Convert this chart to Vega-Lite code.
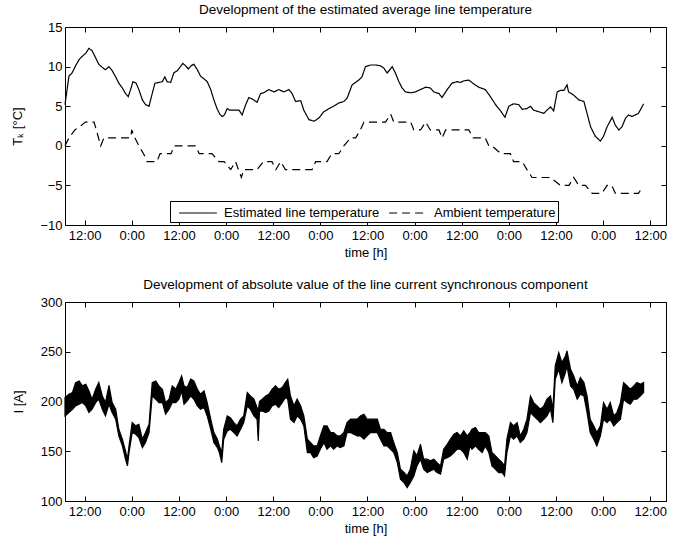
{
  "$schema": "https://vega.github.io/schema/vega-lite/v6.json",
  "padding": {"left": 11, "top": 2, "right": 5, "bottom": 2},
  "spacing": 17,
  "config": {
    "font": "Liberation Sans",
    "view": {"stroke": "black", "strokeWidth": 1},
    "axis": {"grid": false, "domain": false, "tickColor": "black", "tickSize": -5, "tickWidth": 1, "labelColor": "black", "labelFontSize": 13, "titleFontSize": 13, "titleFontWeight": "normal", "titleColor": "black", "labelFont": "Liberation Sans", "titleFont": "Liberation Sans"},
    "axisX": {"labelPadding": 9, "titlePadding": 4},
    "axisY": {"labelPadding": 8, "titlePadding": 15},
    "title": {"fontSize": 13.5, "fontWeight": "normal", "color": "black", "frame": "group", "offset": 5, "font": "Liberation Sans"}
  },
  "datasets": {
    "temp": [
      {"h":7.0,"T":5.2,"series":"Estimated line temperature"},{"h":8.0,"T":8.8,"series":"Estimated line temperature"},{"h":8.8,"T":9.2,"series":"Estimated line temperature"},{"h":9.7,"T":10.1,"series":"Estimated line temperature"},{"h":10.6,"T":10.9,"series":"Estimated line temperature"},{"h":11.4,"T":11.3,"series":"Estimated line temperature"},{"h":12.3,"T":11.7,"series":"Estimated line temperature"},{"h":13.1,"T":12.3,"series":"Estimated line temperature"},{"h":13.9,"T":12.0,"series":"Estimated line temperature"},{"h":14.8,"T":11.1,"series":"Estimated line temperature"},{"h":15.6,"T":10.3,"series":"Estimated line temperature"},{"h":16.5,"T":9.9,"series":"Estimated line temperature"},{"h":17.3,"T":9.6,"series":"Estimated line temperature"},{"h":18.2,"T":10.0,"series":"Estimated line temperature"},{"h":19.0,"T":9.5,"series":"Estimated line temperature"},{"h":19.9,"T":8.7,"series":"Estimated line temperature"},{"h":20.7,"T":7.9,"series":"Estimated line temperature"},{"h":21.6,"T":7.3,"series":"Estimated line temperature"},{"h":22.4,"T":6.6,"series":"Estimated line temperature"},{"h":23.1,"T":6.2,"series":"Estimated line temperature"},{"h":23.7,"T":7.1,"series":"Estimated line temperature"},{"h":24.3,"T":8.1,"series":"Estimated line temperature"},{"h":25.1,"T":7.9,"series":"Estimated line temperature"},{"h":25.8,"T":7.1,"series":"Estimated line temperature"},{"h":26.7,"T":5.8,"series":"Estimated line temperature"},{"h":27.5,"T":5.2,"series":"Estimated line temperature"},{"h":28.4,"T":5.0,"series":"Estimated line temperature"},{"h":29.1,"T":6.4,"series":"Estimated line temperature"},{"h":29.9,"T":7.9,"series":"Estimated line temperature"},{"h":30.9,"T":8.0,"series":"Estimated line temperature"},{"h":31.8,"T":8.1,"series":"Estimated line temperature"},{"h":32.4,"T":8.7,"series":"Estimated line temperature"},{"h":33.0,"T":8.1,"series":"Estimated line temperature"},{"h":33.9,"T":8.0,"series":"Estimated line temperature"},{"h":34.7,"T":9.2,"series":"Estimated line temperature"},{"h":35.6,"T":9.5,"series":"Estimated line temperature"},{"h":36.4,"T":10.0,"series":"Estimated line temperature"},{"h":37.0,"T":10.4,"series":"Estimated line temperature"},{"h":37.7,"T":10.1,"series":"Estimated line temperature"},{"h":38.4,"T":9.7,"series":"Estimated line temperature"},{"h":39.1,"T":10.1,"series":"Estimated line temperature"},{"h":39.8,"T":10.3,"series":"Estimated line temperature"},{"h":40.7,"T":9.6,"series":"Estimated line temperature"},{"h":41.5,"T":8.8,"series":"Estimated line temperature"},{"h":42.5,"T":8.4,"series":"Estimated line temperature"},{"h":43.2,"T":8.1,"series":"Estimated line temperature"},{"h":44.1,"T":7.1,"series":"Estimated line temperature"},{"h":44.9,"T":5.8,"series":"Estimated line temperature"},{"h":45.7,"T":4.7,"series":"Estimated line temperature"},{"h":46.4,"T":4.0,"series":"Estimated line temperature"},{"h":47.0,"T":3.7,"series":"Estimated line temperature"},{"h":47.6,"T":3.9,"series":"Estimated line temperature"},{"h":48.3,"T":4.7,"series":"Estimated line temperature"},{"h":48.9,"T":4.5,"series":"Estimated line temperature"},{"h":50.0,"T":4.5,"series":"Estimated line temperature"},{"h":51.3,"T":4.5,"series":"Estimated line temperature"},{"h":52.1,"T":3.9,"series":"Estimated line temperature"},{"h":53.0,"T":5.2,"series":"Estimated line temperature"},{"h":53.8,"T":6.1,"series":"Estimated line temperature"},{"h":54.7,"T":5.9,"series":"Estimated line temperature"},{"h":55.9,"T":5.5,"series":"Estimated line temperature"},{"h":56.8,"T":6.6,"series":"Estimated line temperature"},{"h":57.6,"T":6.7,"series":"Estimated line temperature"},{"h":58.9,"T":7.1,"series":"Estimated line temperature"},{"h":60.2,"T":6.8,"series":"Estimated line temperature"},{"h":61.4,"T":7.1,"series":"Estimated line temperature"},{"h":62.7,"T":6.8,"series":"Estimated line temperature"},{"h":64.0,"T":7.1,"series":"Estimated line temperature"},{"h":64.8,"T":6.6,"series":"Estimated line temperature"},{"h":65.7,"T":5.6,"series":"Estimated line temperature"},{"h":67.0,"T":5.7,"series":"Estimated line temperature"},{"h":67.8,"T":4.5,"series":"Estimated line temperature"},{"h":69.1,"T":3.3,"series":"Estimated line temperature"},{"h":70.4,"T":3.1,"series":"Estimated line temperature"},{"h":71.6,"T":3.5,"series":"Estimated line temperature"},{"h":72.9,"T":4.3,"series":"Estimated line temperature"},{"h":74.2,"T":4.7,"series":"Estimated line temperature"},{"h":75.4,"T":5.0,"series":"Estimated line temperature"},{"h":76.7,"T":5.4,"series":"Estimated line temperature"},{"h":78.0,"T":5.6,"series":"Estimated line temperature"},{"h":78.8,"T":6.0,"series":"Estimated line temperature"},{"h":80.1,"T":7.7,"series":"Estimated line temperature"},{"h":81.8,"T":8.3,"series":"Estimated line temperature"},{"h":82.6,"T":8.7,"series":"Estimated line temperature"},{"h":83.5,"T":10.0,"series":"Estimated line temperature"},{"h":84.8,"T":10.2,"series":"Estimated line temperature"},{"h":86.1,"T":10.2,"series":"Estimated line temperature"},{"h":87.3,"T":10.1,"series":"Estimated line temperature"},{"h":88.2,"T":9.8,"series":"Estimated line temperature"},{"h":89.0,"T":9.2,"series":"Estimated line temperature"},{"h":89.7,"T":9.6,"series":"Estimated line temperature"},{"h":90.3,"T":10.0,"series":"Estimated line temperature"},{"h":91.1,"T":9.2,"series":"Estimated line temperature"},{"h":92.0,"T":8.1,"series":"Estimated line temperature"},{"h":92.8,"T":7.3,"series":"Estimated line temperature"},{"h":93.7,"T":6.8,"series":"Estimated line temperature"},{"h":95.0,"T":6.7,"series":"Estimated line temperature"},{"h":96.2,"T":6.8,"series":"Estimated line temperature"},{"h":97.5,"T":7.1,"series":"Estimated line temperature"},{"h":98.8,"T":7.4,"series":"Estimated line temperature"},{"h":100.0,"T":7.3,"series":"Estimated line temperature"},{"h":100.9,"T":6.8,"series":"Estimated line temperature"},{"h":102.2,"T":6.6,"series":"Estimated line temperature"},{"h":103.0,"T":6.1,"series":"Estimated line temperature"},{"h":104.3,"T":7.1,"series":"Estimated line temperature"},{"h":105.5,"T":7.9,"series":"Estimated line temperature"},{"h":106.8,"T":8.1,"series":"Estimated line temperature"},{"h":107.7,"T":8.0,"series":"Estimated line temperature"},{"h":108.5,"T":8.2,"series":"Estimated line temperature"},{"h":109.8,"T":8.3,"series":"Estimated line temperature"},{"h":111.1,"T":7.8,"series":"Estimated line temperature"},{"h":112.3,"T":7.4,"series":"Estimated line temperature"},{"h":114.0,"T":7.1,"series":"Estimated line temperature"},{"h":115.3,"T":6.2,"series":"Estimated line temperature"},{"h":116.6,"T":5.2,"series":"Estimated line temperature"},{"h":117.9,"T":4.4,"series":"Estimated line temperature"},{"h":119.0,"T":3.6,"series":"Estimated line temperature"},{"h":120.0,"T":5.0,"series":"Estimated line temperature"},{"h":121.2,"T":5.3,"series":"Estimated line temperature"},{"h":122.5,"T":5.2,"series":"Estimated line temperature"},{"h":123.4,"T":4.6,"series":"Estimated line temperature"},{"h":124.6,"T":4.7,"series":"Estimated line temperature"},{"h":125.5,"T":5.0,"series":"Estimated line temperature"},{"h":126.3,"T":4.5,"series":"Estimated line temperature"},{"h":127.6,"T":4.3,"series":"Estimated line temperature"},{"h":128.9,"T":4.1,"series":"Estimated line temperature"},{"h":129.7,"T":4.5,"series":"Estimated line temperature"},{"h":130.6,"T":4.9,"series":"Estimated line temperature"},{"h":131.4,"T":4.4,"series":"Estimated line temperature"},{"h":132.3,"T":6.8,"series":"Estimated line temperature"},{"h":133.1,"T":7.0,"series":"Estimated line temperature"},{"h":134.0,"T":7.0,"series":"Estimated line temperature"},{"h":134.8,"T":7.7,"series":"Estimated line temperature"},{"h":135.2,"T":6.8,"series":"Estimated line temperature"},{"h":136.5,"T":6.4,"series":"Estimated line temperature"},{"h":137.8,"T":5.8,"series":"Estimated line temperature"},{"h":139.1,"T":5.6,"series":"Estimated line temperature"},{"h":139.9,"T":4.1,"series":"Estimated line temperature"},{"h":140.8,"T":2.4,"series":"Estimated line temperature"},{"h":142.0,"T":1.2,"series":"Estimated line temperature"},{"h":143.3,"T":0.6,"series":"Estimated line temperature"},{"h":144.1,"T":1.2,"series":"Estimated line temperature"},{"h":145.0,"T":2.4,"series":"Estimated line temperature"},{"h":146.3,"T":3.6,"series":"Estimated line temperature"},{"h":147.1,"T":2.6,"series":"Estimated line temperature"},{"h":148.0,"T":2.0,"series":"Estimated line temperature"},{"h":148.8,"T":2.4,"series":"Estimated line temperature"},{"h":149.7,"T":3.5,"series":"Estimated line temperature"},{"h":150.5,"T":3.9,"series":"Estimated line temperature"},{"h":151.3,"T":3.7,"series":"Estimated line temperature"},{"h":152.2,"T":3.9,"series":"Estimated line temperature"},{"h":153.0,"T":4.1,"series":"Estimated line temperature"},{"h":154.3,"T":5.3,"series":"Estimated line temperature"},
      {"h":7.0,"T":0,"series":"Ambient temperature"},{"h":8.0,"T":1,"series":"Ambient temperature"},{"h":9.5,"T":2,"series":"Ambient temperature"},{"h":11.2,"T":2.6,"series":"Ambient temperature"},{"h":12.2,"T":3,"series":"Ambient temperature"},{"h":14.4,"T":3,"series":"Ambient temperature"},{"h":16.1,"T":0,"series":"Ambient temperature"},{"h":16.9,"T":1,"series":"Ambient temperature"},{"h":23.7,"T":1,"series":"Ambient temperature"},{"h":24.0,"T":2,"series":"Ambient temperature"},{"h":24.6,"T":1.2,"series":"Ambient temperature"},{"h":25.8,"T":0,"series":"Ambient temperature"},{"h":27.1,"T":-1.1,"series":"Ambient temperature"},{"h":27.9,"T":-2,"series":"Ambient temperature"},{"h":30.4,"T":-2,"series":"Ambient temperature"},{"h":31.2,"T":-1,"series":"Ambient temperature"},{"h":34.0,"T":-1,"series":"Ambient temperature"},{"h":34.8,"T":0,"series":"Ambient temperature"},{"h":40.2,"T":0,"series":"Ambient temperature"},{"h":41.2,"T":-1,"series":"Ambient temperature"},{"h":44.4,"T":-1,"series":"Ambient temperature"},{"h":46.2,"T":-2,"series":"Ambient temperature"},{"h":47.5,"T":-2,"series":"Ambient temperature"},{"h":49.2,"T":-3,"series":"Ambient temperature"},{"h":50.4,"T":-2,"series":"Ambient temperature"},{"h":51.9,"T":-4,"series":"Ambient temperature"},{"h":52.5,"T":-3,"series":"Ambient temperature"},{"h":55.9,"T":-3,"series":"Ambient temperature"},{"h":57.5,"T":-2,"series":"Ambient temperature"},{"h":59.7,"T":-2,"series":"Ambient temperature"},{"h":60.7,"T":-3,"series":"Ambient temperature"},{"h":61.9,"T":-2,"series":"Ambient temperature"},{"h":63.1,"T":-3,"series":"Ambient temperature"},{"h":69.9,"T":-3,"series":"Ambient temperature"},{"h":70.8,"T":-2,"series":"Ambient temperature"},{"h":73.7,"T":-2,"series":"Ambient temperature"},{"h":74.9,"T":-1,"series":"Ambient temperature"},{"h":76.7,"T":-1,"series":"Ambient temperature"},{"h":78.0,"T":0,"series":"Ambient temperature"},{"h":79.7,"T":1,"series":"Ambient temperature"},{"h":81.0,"T":1,"series":"Ambient temperature"},{"h":82.2,"T":2,"series":"Ambient temperature"},{"h":83.1,"T":3,"series":"Ambient temperature"},{"h":88.6,"T":3,"series":"Ambient temperature"},{"h":89.9,"T":4,"series":"Ambient temperature"},{"h":90.7,"T":3,"series":"Ambient temperature"},{"h":95.0,"T":3,"series":"Ambient temperature"},{"h":95.8,"T":2,"series":"Ambient temperature"},{"h":97.5,"T":2,"series":"Ambient temperature"},{"h":98.8,"T":3,"series":"Ambient temperature"},{"h":100.0,"T":2,"series":"Ambient temperature"},{"h":102.2,"T":2,"series":"Ambient temperature"},{"h":103.0,"T":1,"series":"Ambient temperature"},{"h":103.9,"T":2,"series":"Ambient temperature"},{"h":109.8,"T":2,"series":"Ambient temperature"},{"h":110.9,"T":1,"series":"Ambient temperature"},{"h":114.0,"T":1,"series":"Ambient temperature"},{"h":114.9,"T":0,"series":"Ambient temperature"},{"h":115.7,"T":0,"series":"Ambient temperature"},{"h":118.0,"T":-1,"series":"Ambient temperature"},{"h":120.4,"T":-1,"series":"Ambient temperature"},{"h":121.2,"T":-2,"series":"Ambient temperature"},{"h":123.4,"T":-2,"series":"Ambient temperature"},{"h":124.6,"T":-3,"series":"Ambient temperature"},{"h":125.9,"T":-4,"series":"Ambient temperature"},{"h":130.6,"T":-4,"series":"Ambient temperature"},{"h":133.1,"T":-5,"series":"Ambient temperature"},{"h":135.3,"T":-5,"series":"Ambient temperature"},{"h":136.5,"T":-4,"series":"Ambient temperature"},{"h":137.8,"T":-5,"series":"Ambient temperature"},{"h":139.5,"T":-5,"series":"Ambient temperature"},{"h":141.2,"T":-6,"series":"Ambient temperature"},{"h":143.7,"T":-6,"series":"Ambient temperature"},{"h":145.0,"T":-5,"series":"Ambient temperature"},{"h":146.2,"T":-5,"series":"Ambient temperature"},{"h":147.1,"T":-6,"series":"Ambient temperature"},{"h":153.0,"T":-6,"series":"Ambient temperature"},{"h":153.9,"T":-5.3,"series":"Ambient temperature"}
    ],
    "cur": [
      {"h":7.0,"lo":185.5,"hi":203.9},{"h":8.0,"lo":188.9,"hi":207.3},{"h":8.9,"lo":192.2,"hi":209.0},{"h":9.7,"lo":195.6,"hi":219.0},{"h":10.6,"lo":197.2,"hi":220.7},{"h":11.4,"lo":198.9,"hi":215.7},{"h":12.3,"lo":195.6,"hi":217.3},{"h":13.1,"lo":188.9,"hi":210.6},{"h":13.9,"lo":192.2,"hi":202.3},{"h":14.8,"lo":198.9,"hi":212.3},{"h":15.6,"lo":202.3,"hi":219.0},{"h":16.5,"lo":192.2,"hi":205.6},{"h":17.3,"lo":185.5,"hi":198.9},{"h":18.2,"lo":197.2,"hi":216.3},{"h":19.0,"lo":188.9,"hi":198.9},{"h":19.9,"lo":182.2,"hi":192.2},{"h":20.7,"lo":165.4,"hi":172.1},{"h":21.6,"lo":155.4,"hi":162.1},{"h":22.4,"lo":142.0,"hi":150.3},{"h":22.9,"lo":135.3,"hi":142.0},{"h":23.3,"lo":148.7,"hi":155.4},{"h":24.1,"lo":168.8,"hi":178.8},{"h":25.0,"lo":167.1,"hi":175.5},{"h":25.8,"lo":163.7,"hi":177.1},{"h":26.7,"lo":153.7,"hi":162.1},{"h":27.5,"lo":158.7,"hi":168.8},{"h":28.4,"lo":168.8,"hi":177.1},{"h":29.2,"lo":205.6,"hi":219.0},{"h":30.1,"lo":202.3,"hi":220.7},{"h":30.9,"lo":198.9,"hi":215.7},{"h":31.8,"lo":198.9,"hi":212.3},{"h":32.6,"lo":187.2,"hi":198.9},{"h":33.5,"lo":192.2,"hi":202.3},{"h":34.3,"lo":198.9,"hi":215.7},{"h":35.2,"lo":198.9,"hi":212.3},{"h":36.0,"lo":202.3,"hi":219.0},{"h":36.7,"lo":210.6,"hi":225.7},{"h":37.3,"lo":197.2,"hi":215.7},{"h":38.1,"lo":200.6,"hi":214.0},{"h":39.0,"lo":205.6,"hi":222.4},{"h":39.8,"lo":202.3,"hi":220.7},{"h":40.7,"lo":195.6,"hi":212.3},{"h":41.5,"lo":192.2,"hi":207.3},{"h":42.4,"lo":193.9,"hi":210.6},{"h":43.2,"lo":185.5,"hi":198.9},{"h":44.1,"lo":172.1,"hi":182.2},{"h":44.9,"lo":158.7,"hi":168.8},{"h":45.8,"lo":153.7,"hi":162.1},{"h":46.3,"lo":148.7,"hi":155.4},{"h":46.9,"lo":138.6,"hi":148.7},{"h":47.4,"lo":162.1,"hi":172.1},{"h":48.3,"lo":170.4,"hi":185.5},{"h":49.1,"lo":172.1,"hi":183.8},{"h":50.0,"lo":168.8,"hi":178.8},{"h":50.8,"lo":165.4,"hi":175.5},{"h":51.7,"lo":172.1,"hi":182.2},{"h":52.5,"lo":178.8,"hi":185.5},{"h":53.4,"lo":195.6,"hi":209.0},{"h":54.2,"lo":192.2,"hi":205.6},{"h":55.1,"lo":185.5,"hi":202.3},{"h":55.9,"lo":182.2,"hi":193.9},{"h":56.2,"lo":160.4,"hi":190.0},{"h":56.5,"lo":190.0,"hi":200.0},
      {"h":57.2,"lo":190.5,"hi":202.3},{"h":58.1,"lo":188.9,"hi":205.6},{"h":58.9,"lo":190.5,"hi":207.3},{"h":59.7,"lo":195.6,"hi":212.3},{"h":60.6,"lo":197.2,"hi":215.7},{"h":61.4,"lo":193.9,"hi":212.3},{"h":62.3,"lo":198.9,"hi":214.0},{"h":63.1,"lo":203.9,"hi":219.0},{"h":63.7,"lo":202.3,"hi":222.4},{"h":64.4,"lo":182.2,"hi":205.6},{"h":65.3,"lo":178.8,"hi":195.6},{"h":66.1,"lo":185.5,"hi":202.3},{"h":67.0,"lo":182.2,"hi":195.6},{"h":67.8,"lo":175.5,"hi":185.5},{"h":68.7,"lo":148.7,"hi":162.1},{"h":69.5,"lo":148.7,"hi":158.7},{"h":70.3,"lo":143.6,"hi":155.4},{"h":71.2,"lo":145.3,"hi":155.4},{"h":72.0,"lo":152.0,"hi":165.4},{"h":72.9,"lo":158.7,"hi":175.5},{"h":73.7,"lo":152.0,"hi":175.5},{"h":74.6,"lo":155.4,"hi":168.8},{"h":75.4,"lo":152.0,"hi":168.8},{"h":76.3,"lo":155.4,"hi":165.4},{"h":77.1,"lo":153.7,"hi":165.4},{"h":78.0,"lo":155.4,"hi":168.8},{"h":78.8,"lo":168.8,"hi":178.8},{"h":79.7,"lo":168.8,"hi":182.2},{"h":80.5,"lo":167.1,"hi":182.2},{"h":81.4,"lo":165.4,"hi":182.2},{"h":82.2,"lo":165.4,"hi":185.5},{"h":83.1,"lo":162.1,"hi":187.2},{"h":83.9,"lo":165.4,"hi":182.2},{"h":84.8,"lo":168.8,"hi":182.2},{"h":85.6,"lo":168.8,"hi":182.2},{"h":86.5,"lo":168.8,"hi":182.2},{"h":87.3,"lo":162.1,"hi":172.1},{"h":88.2,"lo":155.4,"hi":172.1},{"h":89.0,"lo":155.4,"hi":168.8},{"h":89.9,"lo":152.0,"hi":168.8},{"h":90.7,"lo":148.7,"hi":158.7},{"h":91.6,"lo":138.6,"hi":148.7},{"h":92.4,"lo":121.9,"hi":131.9},{"h":93.3,"lo":118.5,"hi":128.6},{"h":94.1,"lo":113.5,"hi":125.2},{"h":94.9,"lo":118.5,"hi":131.9},{"h":95.8,"lo":125.2,"hi":150.3},{"h":96.6,"lo":135.3,"hi":145.3},{"h":97.5,"lo":142.0,"hi":157.0},{"h":98.3,"lo":131.9,"hi":142.0},{"h":99.2,"lo":128.6,"hi":142.0},{"h":100.0,"lo":130.2,"hi":140.3},{"h":100.9,"lo":131.9,"hi":142.0},{"h":101.7,"lo":128.6,"hi":138.6},{"h":102.6,"lo":126.9,"hi":135.3},{"h":103.4,"lo":142.0,"hi":152.0},{"h":104.3,"lo":143.6,"hi":157.0},{"h":105.1,"lo":145.3,"hi":162.1},{"h":106.0,"lo":148.7,"hi":167.1},{"h":106.8,"lo":152.0,"hi":168.8},{"h":107.7,"lo":152.0,"hi":165.4},{"h":108.5,"lo":148.7,"hi":170.4},{"h":109.4,"lo":142.0,"hi":165.4},
      {"h":110.1,"lo":155.4,"hi":168.8},{"h":110.6,"lo":152.0,"hi":172.1},{"h":111.5,"lo":155.4,"hi":173.8},{"h":112.3,"lo":152.0,"hi":168.8},{"h":113.2,"lo":148.7,"hi":168.8},{"h":114.0,"lo":155.4,"hi":168.8},{"h":114.9,"lo":148.7,"hi":165.4},{"h":115.7,"lo":135.3,"hi":148.7},{"h":116.6,"lo":131.9,"hi":145.3},{"h":117.4,"lo":128.6,"hi":142.0},{"h":118.3,"lo":128.6,"hi":138.6},{"h":118.9,"lo":125.2,"hi":135.3},{"h":119.5,"lo":148.7,"hi":162.1},{"h":120.4,"lo":165.4,"hi":178.8},{"h":121.2,"lo":162.1,"hi":175.5},{"h":122.1,"lo":165.4,"hi":178.8},{"h":122.9,"lo":158.7,"hi":165.4},{"h":123.8,"lo":162.1,"hi":172.1},{"h":124.6,"lo":168.8,"hi":182.2},{"h":125.5,"lo":188.9,"hi":205.6},{"h":126.3,"lo":185.5,"hi":198.9},{"h":127.2,"lo":182.2,"hi":195.6},{"h":128.0,"lo":178.8,"hi":192.2},{"h":128.9,"lo":182.2,"hi":195.6},{"h":129.7,"lo":185.5,"hi":202.3},{"h":130.6,"lo":192.2,"hi":205.6},{"h":131.2,"lo":178.8,"hi":192.2},{"h":131.8,"lo":222.4,"hi":235.8},{"h":132.7,"lo":232.4,"hi":249.2},{"h":133.5,"lo":219.0,"hi":239.1},{"h":134.4,"lo":229.1,"hi":245.8},{"h":134.8,"lo":235.8,"hi":250.8},{"h":135.7,"lo":215.7,"hi":232.4},{"h":136.5,"lo":212.3,"hi":225.7},{"h":137.4,"lo":202.3,"hi":215.7},{"h":138.2,"lo":207.3,"hi":224.0},{"h":139.1,"lo":205.6,"hi":219.0},{"h":139.9,"lo":188.9,"hi":205.6},{"h":140.7,"lo":168.8,"hi":182.2},{"h":141.6,"lo":162.1,"hi":175.5},{"h":142.4,"lo":155.4,"hi":168.8},{"h":143.3,"lo":165.4,"hi":175.5},{"h":144.1,"lo":182.2,"hi":198.9},{"h":145.0,"lo":178.8,"hi":192.2},{"h":145.8,"lo":182.2,"hi":198.9},{"h":146.7,"lo":175.5,"hi":185.5},{"h":147.5,"lo":178.8,"hi":188.9},{"h":148.4,"lo":182.2,"hi":198.9},{"h":149.2,"lo":202.3,"hi":219.0},{"h":150.1,"lo":198.9,"hi":215.7},{"h":150.9,"lo":197.2,"hi":212.3},{"h":151.8,"lo":202.3,"hi":215.7},{"h":152.6,"lo":202.3,"hi":219.0},{"h":153.5,"lo":205.6,"hi":217.3},{"h":154.3,"lo":209.0,"hi":219.0}
    ]
  },
  "vconcat": [
    {
      "width": 601,
      "height": 198,
      "title": "Development of the estimated average line temperature",
      "data": {"name": "temp"},
      "layer": [
        {
          "mark": {"type": "line", "color": "black", "strokeWidth": 1.2},
          "encoding": {
            "x": {"field": "h", "type": "quantitative", "scale": {"domain": [7, 160], "nice": false, "zero": false},
                  "axis": {"values": [12,24,36,48,60,72,84,96,108,120,132,144,156], "labelExpr": "datum.value % 24 == 12 ? '12:00' : '0:00'", "title": "time [h]"}},
            "y": {"field": "T", "type": "quantitative", "scale": {"domain": [-10, 15], "nice": false, "zero": false},
                  "axis": {"values": [-10,-5,0,5,10,15], "title": "Tₖ [°C]"}},
            "strokeDash": {"field": "series", "type": "nominal",
              "scale": {"domain": ["Estimated line temperature", "Ambient temperature"], "range": [[1, 0], [8, 5]]},
              "legend": {"title": null, "orient": "none", "legendX": 105, "legendY": 174, "direction": "horizontal",
                "strokeColor": "black", "fillColor": "white", "padding": 2, "symbolType": "M-2.1,0H2.1", "symbolSize": 324,
                "symbolOffset": 16, "symbolStrokeWidth": 1.2, "symbolStrokeColor": "black", "labelFontSize": 13, "labelColor": "black",
                "labelOffset": 16, "columnPadding": 2, "labelLimit": 300, "cornerRadius": 0}}
          }
        },
        {
          "mark": {"type": "point", "opacity": 0},
          "encoding": {
            "x": {"field": "h", "type": "quantitative", "axis": {"orient": "top", "values": [12,24,36,48,60,72,84,96,108,120,132,144,156], "labels": false, "title": null, "minExtent": 0}},
            "y": {"field": "T", "type": "quantitative", "axis": {"orient": "right", "values": [-10,-5,0,5,10,15], "labels": false, "title": null, "minExtent": 0}}
          }
        }
      ],
      "resolve": {"axis": {"x": "independent", "y": "independent"}}
    },
    {
      "width": 601,
      "height": 199,
      "title": "Development of absolute value of the line current synchronous component",
      "data": {"name": "cur"},
      "layer": [
        {
          "mark": {"type": "area", "color": "black", "stroke": "black", "strokeWidth": 1.2},
          "encoding": {
            "x": {"field": "h", "type": "quantitative", "scale": {"domain": [7, 160], "nice": false, "zero": false},
                  "axis": {"values": [12,24,36,48,60,72,84,96,108,120,132,144,156], "labelExpr": "datum.value % 24 == 12 ? '12:00' : '0:00'", "title": "time [h]"}},
            "y": {"field": "lo", "type": "quantitative", "scale": {"domain": [100, 300], "nice": false, "zero": false},
                  "axis": {"values": [100,150,200,250,300], "title": "I [A]"}},
            "y2": {"field": "hi"}
          }
        },
        {
          "mark": {"type": "point", "opacity": 0},
          "encoding": {
            "x": {"field": "h", "type": "quantitative", "axis": {"orient": "top", "values": [12,24,36,48,60,72,84,96,108,120,132,144,156], "labels": false, "title": null, "minExtent": 0}},
            "y": {"field": "lo", "type": "quantitative", "axis": {"orient": "right", "values": [100,150,200,250,300], "labels": false, "title": null, "minExtent": 0}}
          }
        }
      ],
      "resolve": {"axis": {"x": "independent", "y": "independent"}}
    }
  ]
}
